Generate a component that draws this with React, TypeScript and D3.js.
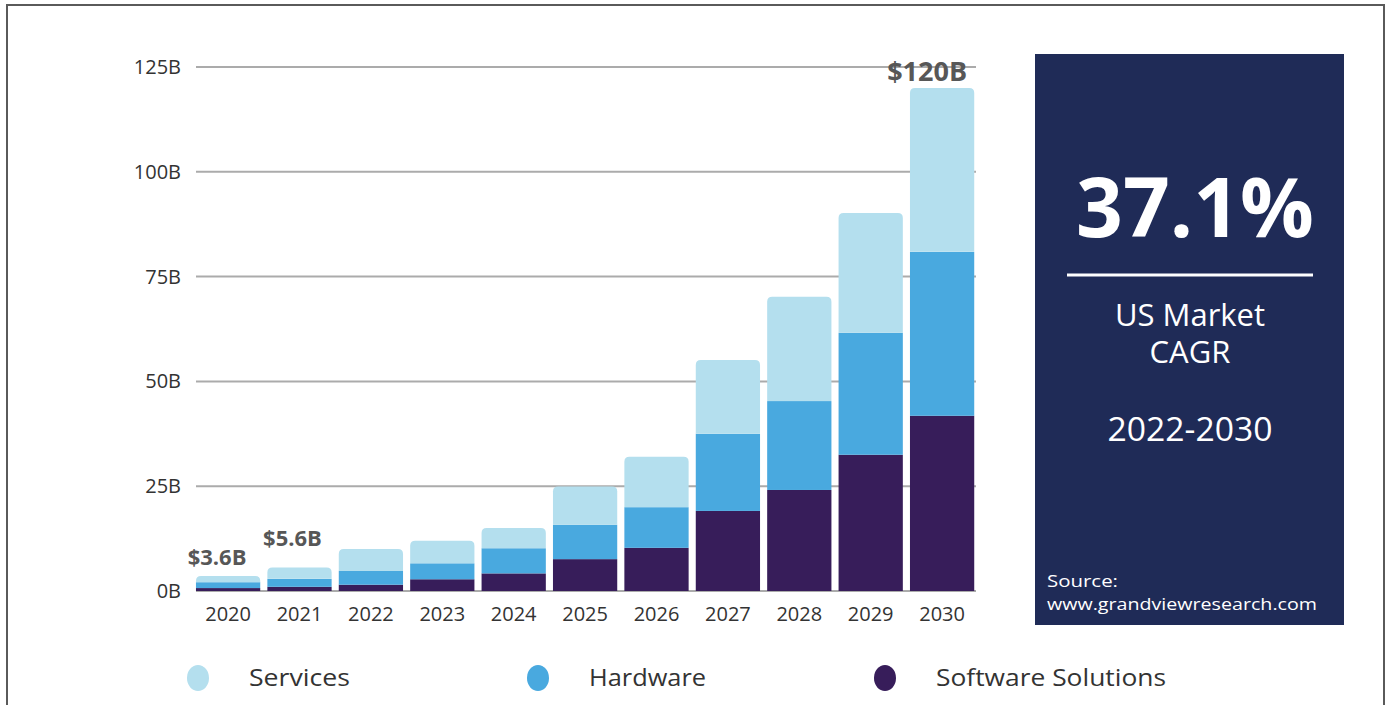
import React from "react";
import * as d3 from "d3";

// ---- data (values in $B) ----
const years = ["2020", "2021", "2022", "2023", "2024", "2025", "2026", "2027", "2028", "2029", "2030"];
const softwareSolutions = [0.7, 1.0, 1.5, 2.8, 4.2, 7.6, 10.3, 19.1, 24.1, 32.5, 41.8];
const hardware = [1.4, 1.9, 3.3, 3.8, 6.0, 8.2, 9.7, 18.4, 21.2, 29.1, 39.1];
const services = [1.5, 2.7, 5.2, 5.4, 4.8, 9.1, 12.0, 17.6, 24.9, 28.6, 39.1];
const yTickValues = [0, 25, 50, 75, 100, 125];
const yTickLabels = ["0B", "25B", "50B", "75B", "100B", "125B"];
const calloutYears = ["2020", "2021", "2030"];
const calloutTexts = ["$3.6B", "$5.6B", "$120B"];
const seriesKeys = ["software", "hardware", "services"];
const legendLabels = ["Services", "Hardware", "Software Solutions"];
const cagrText = "37.1%";
const panelLines = ["US Market", "CAGR"];
const periodText = "2022-2030";
const sourceLines = ["Source:", "www.grandviewresearch.com"];

const COLORS: Record<string, string> = {
  software: "#371d5a",
  hardware: "#49a9df",
  services: "#b4dfee",
};
const legendColors = [COLORS.services, COLORS.hardware, COLORS.software];

const FONT = "'Open Sans', 'Noto Sans', sans-serif";

function topRoundedRect(x: number, y: number, w: number, h: number, r: number) {
  const rr = Math.min(r, h, w / 2);
  return `M${x},${y + h}V${y + rr}Q${x},${y} ${x + rr},${y}H${x + w - rr}Q${x + w},${y} ${x + w},${y + rr}V${y + h}Z`;
}

export default function App() {
  const W = 1386;
  const H = 705;

  const rows = years.map((yr, i) => ({
    year: yr,
    software: softwareSolutions[i],
    hardware: hardware[i],
    services: services[i],
  }));
  const stack = d3.stack<any>().keys(seriesKeys);
  const layers = stack(rows);

  const x = d3.scaleBand<string>().domain(years).range([192.4, 977.8]).paddingInner(0.1).paddingOuter(0.05);
  const y = d3.scaleLinear().domain([0, 125]).range([591, 67]);

  const totals = rows.map((r) => r.software + r.hardware + r.services);

  const calloutStyle: Record<string, { dx: number; dy: number; size: number }> = {
    "2020": { dx: -11, dy: -11, size: 22 },
    "2021": { dx: -7, dy: -22, size: 22 },
    "2030": { dx: -15, dy: -7, size: 27 },
  };

  const legendX = [198, 538, 885];
  const legendWidths = [101, 117, 230];

  return (
    <svg
      width={W}
      height={H}
      style={{ position: "absolute", left: 0, top: 0, background: "#ffffff" }}
      fontFamily={FONT}
    >
      <rect x={0} y={0} width={W} height={H} fill="#ffffff" />
      {/* frame */}
      <path d={`M7,${H}V5H1384V${H}`} fill="none" stroke="#5a5a5a" strokeWidth={2} />

      {/* gridlines + y labels */}
      {yTickValues.map((v, i) => (
        <g key={v}>
          <line x1={196} x2={976} y1={y(v)} y2={y(v)} stroke="#ababab" strokeWidth={2} />
          <text x={181} y={y(v)} dy="0.35em" textAnchor="end" fontSize={20} fill="#333">
            {yTickLabels[i]}
          </text>
        </g>
      ))}

      {/* bars */}
      {layers.map((layer) => (
        <g key={layer.key} fill={COLORS[layer.key]}>
          {layer.map((d: any) => {
            const x0 = x(d.data.year)!;
            const bw = x.bandwidth();
            const top = y(d[1]);
            const h = y(d[0]) - y(d[1]);
            if (layer.key === "services") {
              return <path key={d.data.year} d={topRoundedRect(x0, top, bw, h, 5)} />;
            }
            return <rect key={d.data.year} x={x0} y={top} width={bw} height={h} />;
          })}
        </g>
      ))}

      {/* x labels */}
      {years.map((yr) => (
        <text key={yr} x={x(yr)! + x.bandwidth() / 2} y={621} textAnchor="middle" fontSize={20} fill="#333">
          {yr}
        </text>
      ))}

      {/* callouts */}
      {calloutYears.map((yr, i) => {
        const idx = years.indexOf(yr);
        const s = calloutStyle[yr];
        return (
          <text
            key={yr}
            x={x(yr)! + x.bandwidth() / 2 + s.dx}
            y={y(totals[idx]) + s.dy}
            textAnchor="middle"
            fontSize={s.size}
            fontWeight={700}
            fill="#575757"
          >
            {calloutTexts[i]}
          </text>
        );
      })}

      {/* right panel */}
      <rect x={1035} y={54} width={309} height={571} fill="#1f2b57" />
      <text x={1195} y={237} textAnchor="middle" fontSize={82} fontWeight={700} fill="#ffffff">
        {cagrText}
      </text>
      <line x1={1067} x2={1313} y1={275} y2={275} stroke="#ffffff" strokeWidth={3} />
      {panelLines.map((t, i) => (
        <text key={t} x={1190} y={326 + i * 37} textAnchor="middle" fontSize={31} fill="#ffffff">
          {t}
        </text>
      ))}
      <text
        x={1190}
        y={441}
        textAnchor="middle"
        fontSize={32}
        fill="#ffffff"
        textLength={165}
        lengthAdjust="spacingAndGlyphs"
      >
        {periodText}
      </text>
      <text x={1047} y={587} fontSize={16} fill="#ffffff" textLength={71} lengthAdjust="spacingAndGlyphs">
        {sourceLines[0]}
      </text>
      <text x={1047} y={610} fontSize={17} fill="#ffffff" textLength={270} lengthAdjust="spacingAndGlyphs">
        {sourceLines[1]}
      </text>

      {/* legend */}
      {legendLabels.map((t, i) => (
        <g key={t}>
          <ellipse cx={legendX[i]} cy={678} rx={11} ry={13} fill={legendColors[i]} />
          <text
            x={legendX[i] + 51}
            y={686}
            fontSize={23}
            fill="#333"
            textLength={legendWidths[i]}
            lengthAdjust="spacingAndGlyphs"
          >
            {t}
          </text>
        </g>
      ))}
    </svg>
  );
}
